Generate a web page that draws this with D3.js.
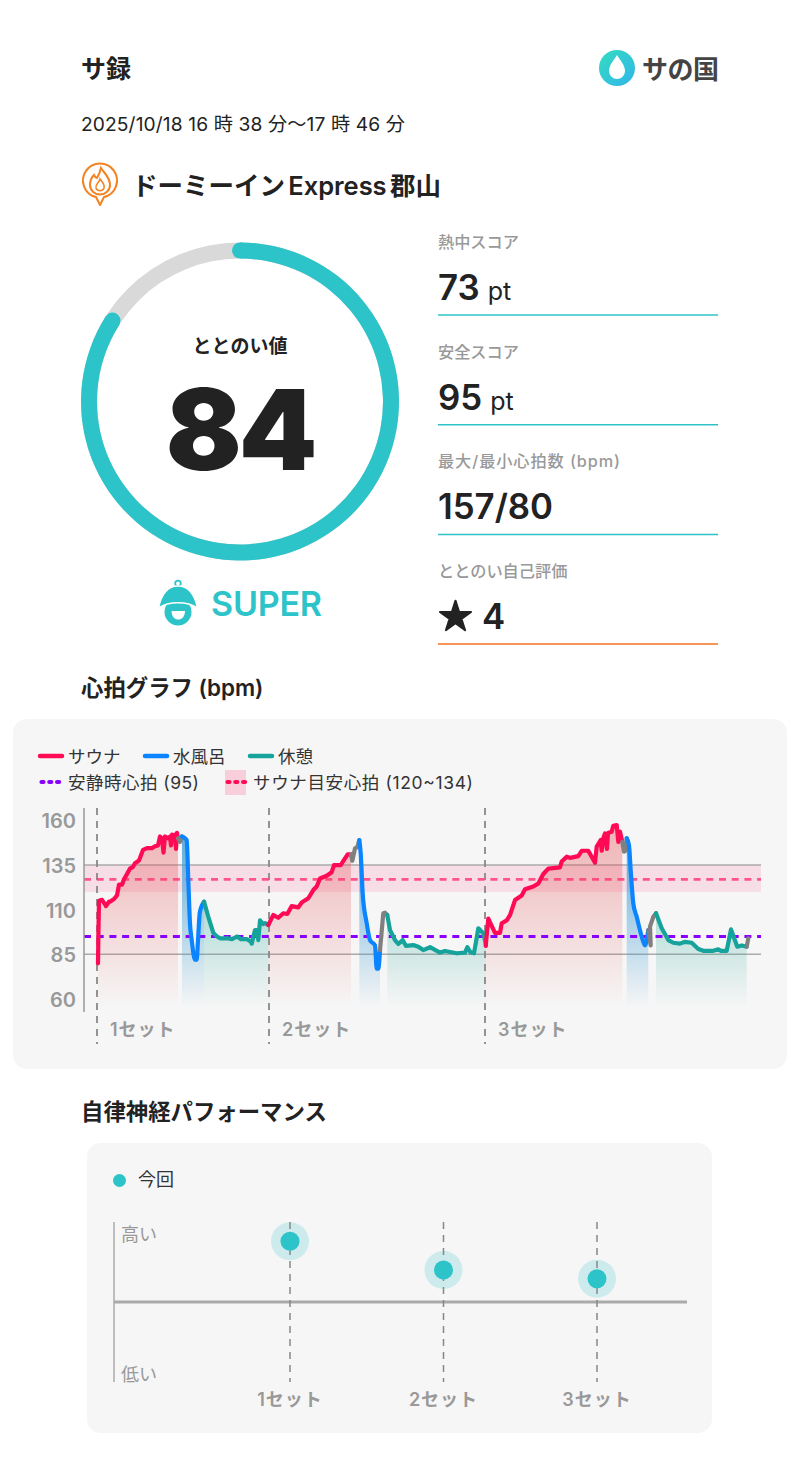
<!DOCTYPE html>
<html lang="ja">
<head>
<meta charset="UTF-8">
<title>サ録</title>
<style>
    body { margin: 0; background: white; }
    svg { display: block; }
    text { font-family: Inter, "Noto Sans CJK JP", sans-serif; fill: #222; }
    .label { fill: #999; font-size: 16.2px; font-weight: 500; }
    .big { font-size: 34.8px; font-weight: 560; }
    .unit { font-size: 25px; font-weight: 400; }
    .heading { font-size: 22.4px; font-weight: 600; }
    .legend { font-size: 17.5px; fill: #333; }
    .tick { fill: #999; font-size: 20px; font-weight: 600; }
    .setLabel { fill: #999; font-size: 18px; font-weight: 600; letter-spacing: 1px; }
</style>
<script src="https://d3js.org/d3.v7.min.js"></script>
</head>
<body>
<script>
    const width = 800;
    const height = 1484;

    // score panel
    const score = 84;
    const scoreMax = 100;
    const stats = [
        { label: "熱中スコア", value: "73", unit: "pt" },
        { label: "安全スコア", value: "95", unit: "pt" },
        { label: "最大/最小心拍数 (bpm)", value: "157/80", unit: "" },
        { label: "ととのい自己評価", value: "4", unit: "" }
    ];

    // heart rate: [time step, bpm]
    const sauna1 = [[1,80],[1.5,100],[2,115],[5,115.5],[8,113],[9,112],[12,114.5],[13,114.5],[17,116],[20,118],[22,124],[25,124],[27,127],[30,130],[33,133],[36,134],[38,136],[42,137.5],[46,143.5],[50,144.5],[55,144.5],[58,145.5],[61,146],[63,151],[65,150],[66.5,142],[68,151],[71,150],[73,151],[74,146],[75,152],[77,150],[78,152],[79,144],[80,153],[81,150]];
    const gap1 = [[81,150],[83,148],[85,151]];
    const bath1 = [[85,151],[88,150],[89.7,149],[91.3,126.6],[93,102],[94.7,93],[98,82],[99.7,82],[101,93],[102.7,108],[104,111],[107,114.5]];
    const rest1 = [[107,114.5],[111.3,106],[116.3,97],[120,95],[123,94],[130,94],[135,93.5],[140,95],[144,93.5],[150,93.5],[154,92],[154.7,91],[158,98.6],[160,98.6],[161.3,93],[163,104],[166,102],[168,102.5],[171.3,101.4]];
    const sauna2 = [[171.3,101.4],[173,103.3],[176.3,107],[181.3,105.5],[186.3,108],[190.3,107.6],[194.7,112],[201.3,111.3],[204.7,114],[211.3,116.4],[216.3,121],[219.7,123],[223,127.5],[229.7,129],[234.7,131],[237,135],[243.7,135],[248,138.7],[250.7,141],[254,141]];
    const gap2 = [[254,141],[255.3,137.4],[258,144.3],[260.3,145],[262.3,149]];
    const bath2 = [[262.3,149],[263.7,141.5],[265.7,119],[269.7,102.4],[273,93],[278,90],[279.7,77],[281.3,77],[283,87.4]];
    const gap3 = [[283,87.4],[286.3,108],[288,108.3],[290.3,107]];
    const rest2 = [[290.3,107],[293,98.6],[298,93],[301.3,90.8],[305.7,93],[309,89.7],[316.3,90.2],[321.3,89.3],[326.3,87.4],[333,89],[343,86],[348,86.9],[359.7,85.6],[368,86],[370.3,89],[373.7,86],[377,85.6],[381.3,99.6],[386.3,96.8],[389,90.2]];
    const sauna3 = [[388.7,89.7],[391.3,105],[398,97],[403,97],[404.7,102.4],[409.7,104],[413,107],[418,115.4],[424.7,118],[428,121.4],[436.3,123],[441.3,124.7],[446.3,130],[451.3,133],[463,133.7],[464.7,137],[469.7,139.7],[473,139],[481.3,140],[484.7,143],[491.3,143],[498,136.3],[499.7,145.3],[503.7,149],[504.7,143],[506.3,150],[508,152.7],[510,144],[511,153],[514.7,153.7],[516.3,157],[519.7,157.4],[521.3,148],[523,153.7],[525.3,148]];
    const gap4 = [[525.3,148],[527,142.5],[528.5,143],[529.7,150]];
    const bath3 = [[529.7,150],[532,146],[533.7,132],[536.3,113.5],[539.7,106],[544.7,95],[548,90],[551.3,98.6]];
    const gap5 = [[551.3,98.6],[553.7,90],[553,100.5],[556.3,106],[559,108]];
    const rest3 = [[559,108],[564.7,99.6],[571.3,93],[576.3,91.5],[583,91],[588,92],[594.7,91.5],[601.3,88],[606.3,87],[616.3,87],[621.3,87.8],[624,87],[629.7,87],[634,99],[640.3,89.3],[644.7,90],[649.7,89.3]];
    const gap6 = [[649.7,89.3],[651.3,94]];

    const hrTicks = [160, 135, 110, 85, 60];
    const restingHr = 95;
    const targetLow = 120;
    const targetHigh = 135;
    const targetMid = 127;
    const setStarts = [0, 172, 388];
    const setNames = ["1セット", "2セット", "3セット"];

    // autonomic performance (-1 low, 1 high)
    const perfSets = ["1セット", "2セット", "3セット"];
    const perfValues = [0.76, 0.40, 0.29];

    const teal = "#2cc3c9";
    const colors = { sauna: "#ff0a55", bath: "#0a84ff", rest: "#16a39b", gap: "#808080" };
    const fills = { sauna: "#e5484d", bath: "#3d9bd4", rest: "#35ad9f" };
    const fillTop = { sauna: 0.36, bath: 0.8, rest: 0.6 };

    const segments = [
        ["sauna", sauna1], ["gap", gap1], ["bath", bath1], ["rest", rest1],
        ["sauna", sauna2], ["gap", gap2], ["bath", bath2], ["gap", gap3], ["rest", rest2],
        ["sauna", sauna3], ["gap", gap4], ["bath", bath3], ["gap", gap5], ["rest", rest3], ["gap", gap6]
    ];

    const svg = d3.select("body").append("svg")
        .attr("width", width).attr("height", height);
    const defs = svg.append("defs");

    // header
    svg.append("text").attr("x", 81).attr("y", 78)
        .style("font-size", "25px").style("font-weight", 700).text("サ録");
    svg.append("text").attr("x", 81).attr("y", 131)
        .style("font-size", "19.2px").attr("textLength", 324).text("2025/10/18 16 時 38 分〜17 時 46 分");
    svg.append("text").attr("x", 132).attr("y", 195)
        .style("font-size", "25.5px").style("font-weight", 600).style("word-spacing", "-3px").attr("textLength", 309).text("ドーミーイン Express 郡山");

    // pin icon
    const pin = svg.append("g").attr("fill", "none").attr("stroke", "#f58220").attr("stroke-width", 2);
    pin.append("path").attr("d", "M100 205 L96 197 A17 17 0 1 1 104 197 Z").attr("fill", "white").attr("stroke-linejoin", "round");
    pin.append("path").attr("d", "M101 168 C104 173 110 177 110 185 A10 9.5 0 0 1 90 185 C90 181 92 177 94 175 C95 177 96 178 97 178 C99 175 100 172 101 168 Z");
    pin.append("path").attr("d", "M100 179 C102 182 105 184 104 188 A4.3 4.3 0 0 1 96 188 C95 184 99 183 100 179 Z").attr("stroke-width", 1.6);

    // logo
    const logoGrad = defs.append("linearGradient").attr("id", "logoGrad")
        .attr("x1", 0).attr("y1", 0).attr("x2", 1).attr("y2", 1);
    logoGrad.append("stop").attr("offset", 0).attr("stop-color", "#33dcc0");
    logoGrad.append("stop").attr("offset", 1).attr("stop-color", "#33b5ea");
    svg.append("circle").attr("cx", 617).attr("cy", 68).attr("r", 18).attr("fill", "url(#logoGrad)");
    svg.append("path").attr("fill", "white")
        .attr("d", "M617 55 C620 60 625 65 625 71 A8 8 0 0 1 609 71 C609 65 614 60 617 55 Z");
    svg.append("text").attr("x", 642).attr("y", 79).attr("textLength", 77)
        .style("font-size", "26px").style("font-weight", 700).style("fill", "#444").text("サの国");

    // score ring
    const ringX = 240, ringY = 401.5;
    const ringR = 151;
    const ringEnd = 2 * Math.PI * score / scoreMax;
    const ring = svg.append("g").attr("transform", `translate(${ringX},${ringY})`);
    const ringArc = d3.arc().innerRadius(ringR - 8).outerRadius(ringR + 8);
    ring.append("path").attr("fill", "#d9d9d9")
        .attr("d", ringArc({ startAngle: 0, endAngle: 2 * Math.PI }));
    ring.append("path").attr("fill", teal)
        .attr("d", ringArc({ startAngle: 0, endAngle: ringEnd }));
    [0, ringEnd].forEach(a => {
        const p = d3.pointRadial(a, ringR);
        ring.append("circle").attr("cx", p[0]).attr("cy", p[1]).attr("r", 8).attr("fill", teal);
    });
    ring.append("text").attr("text-anchor", "middle").attr("y", -49)
        .style("font-size", "19px").style("font-weight", 600).text("ととのい値");
    ring.append("text").attr("text-anchor", "middle").attr("y", 68)
        .style("font-size", "112px").style("font-weight", 900).style("letter-spacing", "-3px").text(score);

    // SUPER badge
    const badge = svg.append("g");
    badge.append("circle").attr("cx", 178).attr("cy", 612).attr("r", 13.5).attr("fill", teal);
    badge.append("path").attr("fill", "white")
        .attr("d", "M171.5 611 H185 C185 617 181.5 619.5 178.2 619.5 C175 619.5 171.5 617 171.5 611 Z");
    badge.append("circle").attr("cx", 178).attr("cy", 583.5).attr("r", 2.8).attr("fill", "none").attr("stroke", teal).attr("stroke-width", 1.8);
    badge.append("path").attr("fill", teal).attr("stroke", "white").attr("stroke-width", 1.5)
        .attr("d", "M158.5 608 C161 596 167 586 178 586 C189 586 195 596 197.5 608 C187 601 169 601 158.5 608 Z");
    svg.append("text").attr("x", 211).attr("y", 616)
        .style("font-size", "34px").style("font-weight", 600).style("fill", teal).attr("textLength", 111).text("SUPER");

    // stat list
    const statLines = [teal, teal, teal, "#f5701f"];
    stats.forEach((d, i) => {
        const top = 315 + i * 109.7;
        const lab = svg.append("text").attr("class", "label").attr("x", 438).attr("y", top - 67).text(d.label);
        if (i === 2) lab.attr("textLength", 182);
        const vx = i === 3 ? 482 : 438;
        const v = svg.append("text").attr("class", "big").attr("x", vx).attr("y", top - 15);
        v.append("tspan").text(d.value);
        if (d.unit) v.append("tspan").attr("class", "unit").attr("dx", 8).text(d.unit);
        svg.append("line").attr("x1", 438).attr("x2", 718).attr("y1", top).attr("y2", top)
            .attr("stroke", statLines[i]).attr("stroke-width", 1.5);
    });
    svg.append("path").attr("fill", "#222").attr("stroke", "#222").attr("stroke-width", 2).attr("stroke-linejoin", "round")
        .attr("d", d3.symbol().type(d3.symbolStar).size(300)())
        .attr("transform", "translate(455.5,617)");

    // heart rate chart
    svg.append("text").attr("class", "heading").attr("x", 81).attr("y", 696).text("心拍グラフ (bpm)");
    svg.append("rect").attr("x", 13).attr("y", 719).attr("width", 774).attr("height", 350)
        .attr("rx", 14).attr("fill", "#f6f6f6");

    const x = d3.scaleLinear().domain([0, 651]).range([97, 748]);
    const y = d3.scaleLinear().domain([60, 160]).range([999, 820.4]);
    const area = d3.area().x(d => x(d[0])).y0(y(55)).y1(d => y(d[1]));
    const line = d3.line().x(d => x(d[0])).y(d => y(d[1]));
    const smooth = d3.line().x(d => x(d[0])).y(d => y(d[1])).curve(d3.curveMonotoneX);

    Object.keys(fills).forEach(k => {
        const g = defs.append("linearGradient").attr("id", "fill-" + k)
            .attr("gradientUnits", "userSpaceOnUse")
            .attr("x1", 0).attr("x2", 0).attr("y1", y(150)).attr("y2", y(55));
        g.append("stop").attr("offset", 0).attr("stop-color", fills[k]).attr("stop-opacity", fillTop[k]);
        g.append("stop").attr("offset", 1).attr("stop-color", fills[k]).attr("stop-opacity", 0);
    });

    // target band and reference lines
    svg.append("rect").attr("x", 84).attr("width", 677)
        .attr("y", y(targetHigh)).attr("height", y(targetLow) - y(targetHigh))
        .attr("fill", "#ff0a55").attr("opacity", 0.1);
    [135, 85].forEach(v => {
        svg.append("line").attr("x1", 84).attr("x2", 761).attr("y1", y(v)).attr("y2", y(v))
            .attr("stroke", "#aaa").attr("stroke-width", 1.5);
    });

    // fills sit under the lines
    segments.filter(s => s[0] !== "gap").forEach(s => {
        svg.append("path").datum(s[1]).attr("fill", `url(#fill-${s[0]})`).attr("d", area);
    });

    setStarts.forEach((t, i) => {
        svg.append("line").attr("x1", x(t)).attr("x2", x(t)).attr("y1", 808).attr("y2", 1044)
            .attr("stroke", "#888").attr("stroke-width", 1.8).attr("stroke-dasharray", "7 6");
        svg.append("text").attr("class", "setLabel").attr("x", x(t) + 13).attr("y", 1036).text(setNames[i]);
    });

    svg.append("line").attr("x1", 84).attr("x2", 761).attr("y1", y(targetMid)).attr("y2", y(targetMid))
        .attr("stroke", "#ff3c78").attr("stroke-opacity", 0.85).attr("stroke-width", 2.6).attr("stroke-dasharray", "7 5.7");
    svg.append("line").attr("x1", 84).attr("x2", 761).attr("y1", y(restingHr)).attr("y2", y(restingHr))
        .attr("stroke", "#8a00ff").attr("stroke-width", 3.2).attr("stroke-dasharray", "7 5.7");

    segments.forEach(s => {
        svg.append("path").datum(s[1]).attr("fill", "none").attr("stroke", colors[s[0]])
            .attr("stroke-width", 4.2).attr("stroke-linejoin", "round").attr("stroke-linecap", "round")
            .attr("d", s[0] === "bath" ? smooth : line);
    });

    // y axis
    svg.append("line").attr("x1", 84).attr("x2", 84).attr("y1", 808).attr("y2", 1012)
        .attr("stroke", "#999").attr("stroke-width", 1.5);
    svg.selectAll(".tick").data(hrTicks).enter().append("text").attr("class", "tick")
        .attr("x", 76).attr("y", d => y(d) + 8).attr("text-anchor", "end").text(d => d);

    // legend
    const legendRow1 = [["サウナ", colors.sauna, 40], ["水風呂", colors.bath, 145], ["休憩", colors.rest, 250]];
    legendRow1.forEach(d => {
        svg.append("line").attr("x1", d[2]).attr("x2", d[2] + 22).attr("y1", 756).attr("y2", 756)
            .attr("stroke", d[1]).attr("stroke-width", 4.5).attr("stroke-linecap", "round");
        svg.append("text").attr("class", "legend").attr("x", d[2] + 28).attr("y", 763).text(d[0]);
    });
    svg.append("rect").attr("x", 225).attr("y", 770).attr("width", 21).attr("height", 25)
        .attr("fill", "#ff0a55").attr("opacity", 0.17);
    [[40, "#8a00ff", "安静時心拍 (95)", 68, 131], [226, "#ff0a55", "サウナ目安心拍 (120~134)", 253, 220]].forEach(d => {
        svg.append("line").attr("x1", d[0] + 1.5).attr("x2", d[0] + 21).attr("y1", 782).attr("y2", 782)
            .attr("stroke", d[1]).attr("stroke-width", 4.2).attr("stroke-linecap", "round").attr("stroke-dasharray", "2 5.8");
        svg.append("text").attr("class", "legend").attr("x", d[3]).attr("y", 789).attr("textLength", d[4]).text(d[2]);
    });

    // autonomic performance chart
    svg.append("text").attr("class", "heading").attr("x", 81).attr("y", 1120).text("自律神経パフォーマンス");
    svg.append("rect").attr("x", 87).attr("y", 1143).attr("width", 625).attr("height", 290)
        .attr("rx", 14).attr("fill", "#f6f6f6");
    svg.append("circle").attr("cx", 119.5).attr("cy", 1180.5).attr("r", 6.5).attr("fill", teal);
    svg.append("text").attr("class", "legend").attr("x", 138).attr("y", 1186).style("font-size", "18px").text("今回");

    const px = d3.scalePoint().domain(perfSets).range([290, 597]);
    const py = d3.scaleLinear().domain([-1, 1]).range([1382, 1222]);

    svg.append("line").attr("x1", 114).attr("x2", 114).attr("y1", py(1)).attr("y2", py(-1))
        .attr("stroke", "#aaa").attr("stroke-width", 1.5);
    svg.append("line").attr("x1", 114).attr("x2", 687).attr("y1", py(0)).attr("y2", py(0))
        .attr("stroke", "#aaa").attr("stroke-width", 3);
    svg.append("text").attr("class", "label").attr("x", 121).attr("y", 1241).style("font-size", "18px").style("font-weight", 400).text("高い");
    svg.append("text").attr("class", "label").attr("x", 121).attr("y", 1381).style("font-size", "18px").style("font-weight", 400).text("低い");

    perfSets.forEach((d, i) => {
        const cx = px(d), cy = py(perfValues[i]);
        svg.append("circle").attr("cx", cx).attr("cy", cy).attr("r", 19).attr("fill", teal).attr("opacity", 0.2);
        svg.append("line").attr("x1", cx).attr("x2", cx).attr("y1", py(1)).attr("y2", py(-1))
            .attr("stroke", "#888").attr("stroke-width", 1.5).attr("stroke-dasharray", "7 6");
        svg.append("circle").attr("cx", cx).attr("cy", cy).attr("r", 9.5).attr("fill", teal);
        svg.append("text").attr("class", "setLabel").attr("x", cx).attr("y", 1406)
            .attr("text-anchor", "middle").text(d);
    });
</script>
</body>
</html>
